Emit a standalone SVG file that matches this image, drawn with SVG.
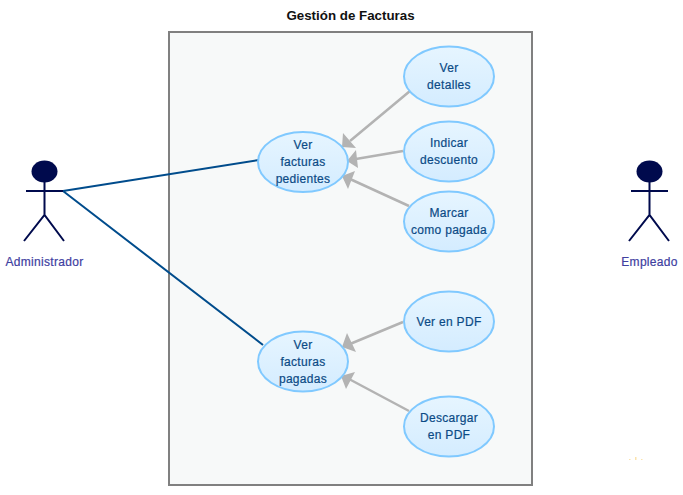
<svg xmlns="http://www.w3.org/2000/svg" width="683" height="495" viewBox="0 0 683 495">
<style>
text{font-family:"Liberation Sans",Arial,sans-serif;text-anchor:middle}
.uc ellipse{fill:url(#g);stroke:#80c9ff;stroke-width:2}
.uc text{font-size:12px;fill:#0b4a85;stroke:#0b4a85;stroke-width:.2;letter-spacing:.3px}
.actor ellipse{fill:#000a4d}
.actor path{fill:none;stroke:#000a4d;stroke-width:2}
.actor text{font-size:12px;fill:#40409f;stroke:#40409f;stroke-width:.2;letter-spacing:.3px}
.assoc{fill:none;stroke:#004c8c;stroke-width:2}
.inc{fill:none;stroke:#b3b3b3;stroke-width:2.500}
.tip{fill:#b3b3b3}
</style>
<defs><linearGradient id="g" x1="0" y1="0" x2="0" y2="1"><stop offset="0" stop-color="#e6f5ff"/><stop offset="1" stop-color="#d4ecff"/></linearGradient></defs>
<rect width="683" height="495" fill="#fff"/>
<g id="system">
<rect x="169" y="32" width="363" height="453" fill="#f7f9f9" stroke="#808080" stroke-width="2"/>
<text x="350.500" y="20" style="font-size:13.330px;font-weight:bold;fill:#111">Gestión de Facturas</text>
</g>
<g id="connectors">
<path class="assoc" d="M63 191L259 160M63 191L263 345"/>
<path class="inc" d="M410 91L350 141M403 151L350 160M409 206L350 179M403 322L350 344M409 411L349 379"/>
<path class="tip" d="M343 133L356 148L342 147ZM356 150L347 161L358 168ZM355 171L342 176L348 189ZM347 333L342 347L356 352ZM355 372L341 376L346 389Z"/>
</g>
<g id="administrador" class="actor"><ellipse cx="44.500" cy="171.500" rx="13" ry="11"/><path d="M44.500 182V215M26 191H63M24 241L44.500 215L64 241"/><text x="44.500" y="266">Administrador</text></g>
<g id="empleado" class="actor"><ellipse cx="649.500" cy="171.500" rx="13" ry="11"/><path d="M649.500 182V215M631 191H668M629 241L649.500 215L669 241"/><text x="649.500" y="266">Empleado</text></g>
<g id="ver-pendientes" class="uc"><ellipse cx="303" cy="162" rx="45" ry="30"/><text x="303" y="149">Ver</text><text x="303" y="166">facturas</text><text x="303" y="183">pedientes</text></g>
<g id="ver-pagadas" class="uc"><ellipse cx="303" cy="361.500" rx="45" ry="30"/><text x="303" y="349">Ver</text><text x="303" y="366">facturas</text><text x="303" y="383">pagadas</text></g>
<g id="ver-detalles" class="uc"><ellipse cx="449" cy="76.500" rx="45" ry="30"/><text x="449" y="72">Ver</text><text x="449" y="89">detalles</text></g>
<g id="indicar-descuento" class="uc"><ellipse cx="449" cy="151.500" rx="45" ry="30"/><text x="449" y="147">Indicar</text><text x="449" y="164">descuento</text></g>
<g id="marcar-pagada" class="uc"><ellipse cx="449" cy="221.500" rx="45" ry="30"/><text x="449" y="217">Marcar</text><text x="449" y="234">como pagada</text></g>
<g id="ver-pdf" class="uc"><ellipse cx="449" cy="321.500" rx="45" ry="30"/><text x="449" y="326">Ver en PDF</text></g>
<g id="descargar-pdf" class="uc"><ellipse cx="449" cy="426.500" rx="45" ry="30"/><text x="449" y="422">Descargar</text><text x="449" y="439">en PDF</text></g>
<path d="M629 459h1.500v1h-1.500zM635 457h1.500v3h-1.500zM641 459h1.500v1h-1.500z" fill="#fbe3ad"/>
</svg>
